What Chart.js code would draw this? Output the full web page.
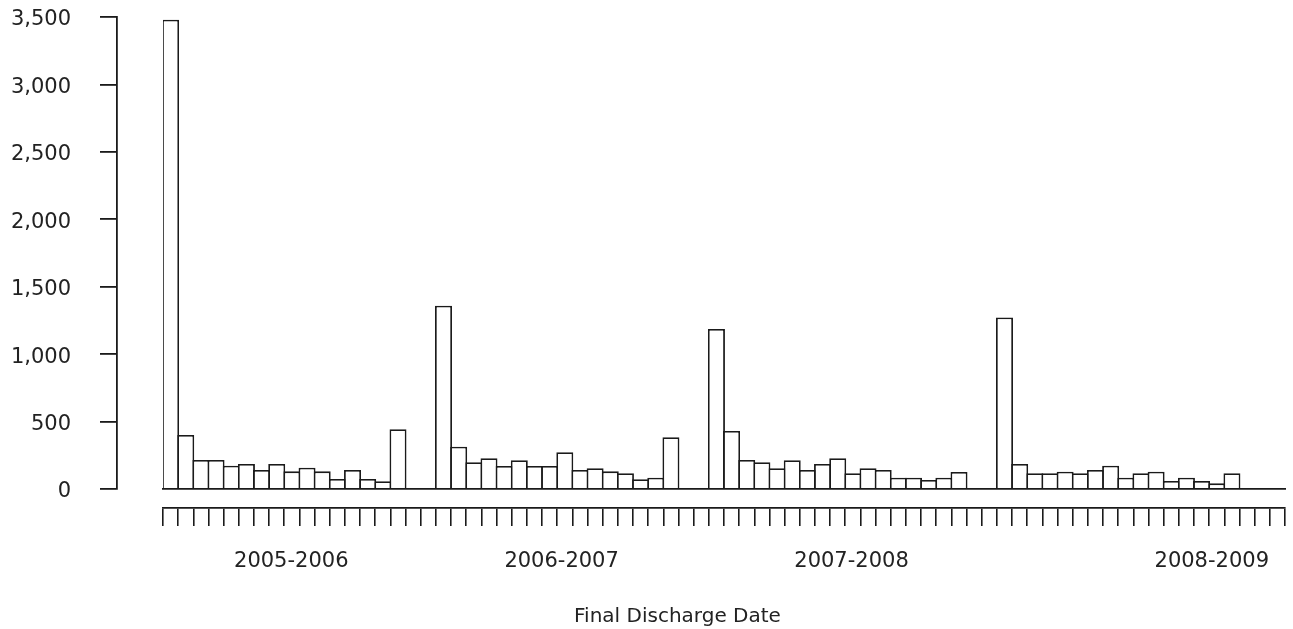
<!DOCTYPE html>
<html>
<head>
<meta charset="utf-8">
<script src="https://cdn.jsdelivr.net/npm/chart.js@4/dist/chart.umd.min.js"></script>
<style>
  html, body { margin: 0; padding: 0; background: #fff; }
</style>
</head>
<body>
<canvas id="dischargeChart" width="1293" height="629"></canvas>
<script>
// discharges per period, one array per season
const season0506 = [3480, 400, 215, 215, 172, 186, 141, 186, 131, 158, 131, 74, 141, 74, 57, 443];
const season0607 = [1359, 314, 198, 228, 171, 213, 171, 171, 272, 141, 154, 131, 117, 72, 84, 384];
const season0708 = [1186, 431, 215, 198, 154, 213, 141, 186, 228, 117, 154, 141, 84, 84, 67, 84, 126];
const season0809 = [1272, 186, 117, 117, 128, 117, 141, 173, 84, 117, 128, 59, 84, 59, 42, 117];
const emptyAfter = [2, 2, 2, 3];

const seasonLabels = ['2005-2006', '2006-2007', '2007-2008', '2008-2009'];
// where each season label sits, in period units along the axis
const seasonLabelAt = [7.96, 25.79, 44.91, 68.67];
const yTicks = [0, 500, 1000, 1500, 2000, 2500, 3000, 3500];
const axisTitle = 'Final Discharge Date';
const axisTitleAt = 33.43;

const ink = '#1a1a1a';
const textColor = '#222222';
const labelFont = { family: 'DejaVu Sans', size: 21 };

const counts = [];
[season0506, season0607, season0708, season0809].forEach((season, i) => {
  season.forEach(v => counts.push(v));
  for (let k = 0; k < emptyAfter[i]; k++) counts.push(null);
});
const periods = counts.map((_, i) => String(i + 1));

const ctx = document.getElementById('dischargeChart').getContext('2d');
new Chart(ctx, {
  type: 'bar',
  data: {
    labels: periods,
    datasets: [{
      data: counts,
      xAxisID: 'x',
      yAxisID: 'y',
      backgroundColor: '#ffffff',
      borderColor: ink,
      borderWidth: 1.8,
      borderSkipped: 'bottom',
      barPercentage: 1.12,
      categoryPercentage: 1
    }]
  },
  options: {
    responsive: false,
    animation: false,
    layout: { padding: { top: 17, right: 8, bottom: 0, left: 0 } },
    plugins: {
      legend: { display: false },
      tooltip: { enabled: false }
    },
    scales: {
      // baseline under the bars
      xb: {
        axis: 'x',
        type: 'category',
        position: 'bottom',
        weight: 0,
        grid: { display: false, drawTicks: false },
        border: { display: true, color: ink, width: 1.8 },
        ticks: { display: false },
        afterFit: scale => { scale.height = 19; }
      },
      // the row of period ticks
      x: {
        type: 'category',
        position: 'bottom',
        weight: 1,
        grid: {
          display: true,
          offset: true,
          drawOnChartArea: false,
          drawTicks: true,
          tickLength: 18,
          color: ink,
          lineWidth: 1.6
        },
        border: { display: true, color: ink, width: 1.8 },
        ticks: { display: false, autoSkip: false },
        afterFit: scale => { scale.height = 19; }
      },
      // season labels
      xl: {
        axis: 'x',
        type: 'linear',
        position: 'bottom',
        weight: 2,
        offset: false,
        min: -0.5,
        max: periods.length - 0.5,
        grid: { display: false, drawTicks: false, offset: false },
        border: { display: false },
        afterBuildTicks: scale => {
          scale.ticks = seasonLabelAt.map(v => ({ value: v }));
        },
        ticks: {
          autoSkip: false,
          maxRotation: 0,
          padding: 22,
          color: textColor,
          font: labelFont,
          callback: (value, index) => seasonLabels[index]
        },
        afterFit: scale => { scale.height = 70; }
      },
      // axis title, placed where the original has it
      xt: {
        axis: 'x',
        type: 'linear',
        position: 'bottom',
        weight: 3,
        offset: false,
        min: -0.5,
        max: periods.length - 0.5,
        grid: { display: false, drawTicks: false, offset: false },
        border: { display: false },
        afterBuildTicks: scale => {
          scale.ticks = [{ value: axisTitleAt }];
        },
        ticks: {
          autoSkip: false,
          maxRotation: 0,
          padding: 8,
          color: textColor,
          font: { family: 'DejaVu Sans', size: 20 },
          callback: () => axisTitle
        },
        afterFit: scale => { scale.height = 32; }
      },
      // empty band between the y axis and the first bar
      ys: {
        axis: 'y',
        type: 'linear',
        position: 'left',
        weight: 0,
        grid: { display: false, drawTicks: false },
        border: { display: false },
        ticks: { display: false },
        afterFit: scale => { scale.width = 46; }
      },
      y: {
        type: 'linear',
        position: 'left',
        weight: 1,
        min: 0,
        max: 3500,
        afterBuildTicks: scale => {
          scale.ticks = yTicks.map(v => ({ value: v }));
        },
        grid: {
          display: true,
          drawOnChartArea: false,
          drawTicks: true,
          tickLength: 17,
          color: ink,
          lineWidth: 1.8
        },
        border: { display: true, color: ink, width: 1.8 },
        ticks: {
          padding: 29,
          labelOffset: 3,
          color: textColor,
          font: labelFont,
          callback: v => v.toLocaleString('en-US')
        },
        afterFit: scale => {
          scale.width = 117;
          scale.paddingTop = 0;
          scale.paddingBottom = 0;
        }
      }
    }
  }
});
</script>
</body>
</html>
